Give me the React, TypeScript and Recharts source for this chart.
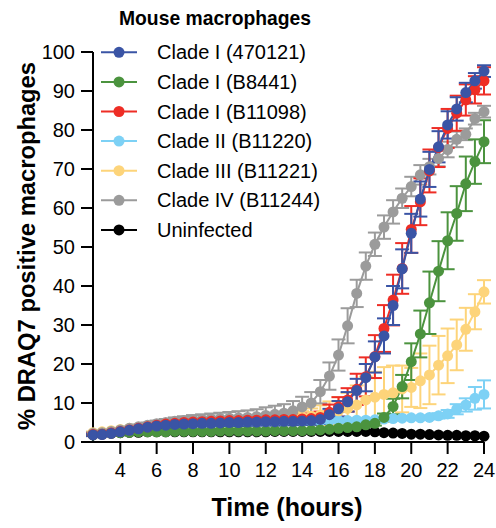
import { CartesianGrid, ErrorBar, Line, LineChart, XAxis, YAxis } from 'recharts';

// Sampling times (hours post infection), one reading every 30 min
const TIME_H = [
  2.5, 3, 3.5, 4, 4.5, 5, 5.5, 6, 6.5, 7, 7.5, 8, 8.5, 9, 9.5, 10, 10.5, 11, 11.5, 12, 12.5, 13,
  13.5, 14, 14.5, 15, 15.5, 16, 16.5, 17, 17.5, 18, 18.5, 19, 19.5, 20, 20.5, 21, 21.5, 22, 22.5,
  23, 23.5, 24,
];

// Mean % DRAQ7+ cells per strain
const CLADE_I_470121 = [
  1.8, 1.9, 2.2, 2.6, 3.0, 3.4, 3.8, 4.1, 4.3, 4.5, 4.6, 4.7, 4.8, 4.8, 4.9, 5.0, 5.0, 5.1, 5.1, 5.2,
  5.2, 5.3, 5.3, 5.4, 5.5, 5.8, 7.0, 8.5, 10.3, 13.2, 16.5, 21.8, 27.2, 35.0, 44.4, 53.5, 62.3, 69.9,
  75.7, 81.3, 85.4, 89.6, 92.6, 95.1,
];
const CLADE_I_B8441 = [
  1.8, 2.0, 2.2, 2.4, 2.5, 2.6, 2.6, 2.6, 2.6, 2.7, 2.7, 2.7, 2.7, 2.7, 2.8, 2.8, 2.8, 2.8, 2.8, 2.8,
  2.9, 2.9, 2.9, 2.9, 3.0, 3.1, 3.3, 3.5, 3.7, 3.9, 4.4, 4.8, 6.3, 9.1, 14.2, 20.6, 27.7, 35.7, 43.8,
  51.6, 58.6, 66.2, 71.9, 77.0,
];
const CLADE_I_B11098 = [
  1.9, 2.0, 2.3, 2.7, 3.1, 3.5, 3.9, 4.3, 4.6, 4.8, 5.0, 5.1, 5.2, 5.3, 5.4, 5.5, 5.5, 5.6, 5.6, 5.7,
  5.7, 5.8, 5.8, 5.9, 6.0, 6.3, 7.6, 9.0, 10.8, 13.5, 16.7, 21.9, 29.1, 36.4, 44.5, 54.5, 61.6, 69.5,
  75.5, 80.4, 84.3, 87.7, 90.3, 92.6,
];
const CLADE_II_B11220 = [
  2.1, 2.3, 2.6, 2.9, 3.3, 3.7, 4.0, 4.3, 4.5, 4.7, 4.8, 4.9, 5.0, 5.0, 5.1, 5.1, 5.2, 5.2, 5.2, 5.3,
  5.3, 5.3, 5.4, 5.4, 5.4, 5.4, 5.5, 5.5, 5.5, 5.6, 5.6, 5.7, 5.9, 6.0, 6.1, 6.2, 6.2, 6.3, 6.7, 7.2,
  8.4, 9.5, 11.2, 12.2,
];
const CLADE_III_B11221 = [
  2.4, 2.6, 2.9, 3.2, 3.5, 3.8, 4.1, 4.4, 4.6, 4.8, 5.0, 5.1, 5.2, 5.3, 5.4, 5.5, 5.6, 5.7, 5.8, 5.9,
  6.0, 6.1, 6.2, 6.4, 6.6, 6.9, 7.4, 8.0, 8.6, 9.5, 10.8, 11.5, 12.2, 12.6, 13.6, 14.0, 15.7, 17.2,
  19.7, 22.1, 24.9, 28.9, 33.4, 38.5,
];
const CLADE_IV_B11244 = [
  2.2, 2.4, 2.7, 3.1, 3.5, 3.9, 4.3, 4.7, 5.0, 5.3, 5.5, 5.7, 5.8, 5.9, 6.0, 6.1, 6.2, 6.3, 6.5, 6.8,
  7.1, 7.4, 8.0, 9.0, 10.0, 12.9, 16.9, 22.3, 29.8, 38.1, 45.1, 50.7, 55.1, 59.0, 62.5, 65.5, 68.5,
  70.6, 72.7, 75.0, 77.6, 78.9, 82.9, 84.7,
];
const UNINFECTED = [
  2.0, 2.1, 2.3, 2.4, 2.5, 2.5, 2.6, 2.6, 2.6, 2.6, 2.6, 2.6, 2.6, 2.6, 2.6, 2.6, 2.6, 2.6, 2.6, 2.6,
  2.7, 2.7, 2.7, 2.7, 2.7, 2.7, 2.7, 2.7, 2.7, 2.7, 2.7, 2.6, 2.4, 2.3, 2.2, 2.0, 2.0, 1.9, 1.8, 1.7,
  1.7, 1.6, 1.6, 1.5,
];

// Standard deviations
const SD_470121 = [
  0.3, 0.3, 0.3, 0.4, 0.4, 0.5, 0.5, 0.6, 0.6, 0.7, 0.7, 0.7, 0.8, 0.8, 0.8, 0.8, 0.9, 0.9, 0.9, 0.9,
  1.0, 1.0, 1.0, 1.0, 1.1, 1.2, 1.5, 2.0, 2.5, 3.0, 3.5, 4.0, 4.5, 5.0, 5.0, 5.0, 4.5, 4.5, 4.0, 3.5,
  3.0, 2.5, 2.0, 1.5,
];
const SD_B8441 = [
  0.2, 0.2, 0.2, 0.2, 0.2, 0.3, 0.3, 0.3, 0.3, 0.3, 0.3, 0.3, 0.3, 0.3, 0.3, 0.3, 0.3, 0.3, 0.3, 0.3,
  0.3, 0.3, 0.3, 0.3, 0.3, 0.3, 0.4, 0.4, 0.4, 0.5, 0.5, 0.6, 1.0, 2.0, 3.0, 4.7, 6.0, 8.0, 7.7, 7.3,
  7.0, 7.0, 5.7, 5.5,
];
const SD_B11098 = [
  0.3, 0.3, 0.4, 0.4, 0.5, 0.5, 0.6, 0.6, 0.7, 0.7, 0.8, 0.8, 0.8, 0.9, 0.9, 0.9, 1.0, 1.0, 1.0, 1.0,
  1.1, 1.1, 1.1, 1.2, 1.3, 1.5, 2.0, 2.5, 3.0, 4.0, 5.0, 5.5, 6.0, 6.5, 6.5, 6.0, 6.0, 5.5, 5.0, 5.0,
  4.5, 4.0, 3.5, 3.5,
];
const SD_B11220 = [
  0.2, 0.2, 0.2, 0.3, 0.3, 0.3, 0.3, 0.3, 0.3, 0.3, 0.3, 0.3, 0.3, 0.3, 0.3, 0.3, 0.3, 0.3, 0.3, 0.3,
  0.3, 0.3, 0.3, 0.3, 0.3, 0.4, 0.4, 0.4, 0.4, 0.4, 0.4, 0.4, 0.4, 0.5, 0.5, 0.5, 0.5, 0.5, 0.7, 1.0,
  1.3, 1.7, 2.9, 3.6,
];
const SD_B11221 = [
  0.3, 0.3, 0.3, 0.3, 0.3, 0.4, 0.4, 0.4, 0.5, 0.5, 0.5, 0.6, 0.6, 0.6, 0.7, 0.7, 0.8, 0.8, 0.9, 0.9,
  1.0, 1.1, 1.2, 1.5, 2.0, 2.5, 3.0, 3.5, 4.0, 5.0, 6.0, 6.5, 7.0, 7.0, 6.0, 5.0, 7.0, 7.5, 7.5, 7.0,
  6.5, 5.5, 4.5, 3.0,
];
const SD_B11244 = [
  0.3, 0.3, 0.4, 0.4, 0.5, 0.6, 0.7, 0.8, 0.9, 1.0, 1.1, 1.2, 1.3, 1.4, 1.5, 1.6, 1.7, 1.8, 1.9, 2.1,
  2.2, 2.3, 2.5, 2.6, 2.8, 3.0, 3.5, 4.0, 4.5, 3.5, 3.5, 3.0, 3.0, 3.0, 2.5, 2.5, 2.5, 2.0, 2.0, 2.0,
  2.0, 1.5, 1.5, 1.5,
];

const X_TICKS = [4, 6, 8, 10, 12, 14, 16, 18, 20, 22, 24];
const Y_TICKS = [0, 10, 20, 30, 40, 50, 60, 70, 80, 90, 100];

const FONT = '"Liberation Sans", Arial, Helvetica, sans-serif';

type Series = { key: string; name: string; color: string; values: number[]; sd?: number[] };

// legend order
const SERIES: Series[] = [
  { key: 's470121', name: 'Clade I (470121)', color: '#3a54a5', values: CLADE_I_470121, sd: SD_470121 },
  { key: 'sB8441', name: 'Clade I (B8441)', color: '#4b933e', values: CLADE_I_B8441, sd: SD_B8441 },
  { key: 'sB11098', name: 'Clade I (B11098)', color: '#ee2d25', values: CLADE_I_B11098, sd: SD_B11098 },
  { key: 'sB11220', name: 'Clade II (B11220)', color: '#7dd1f5', values: CLADE_II_B11220, sd: SD_B11220 },
  { key: 'sB11221', name: 'Clade III (B11221)', color: '#fdd47a', values: CLADE_III_B11221, sd: SD_B11221 },
  { key: 'sB11244', name: 'Clade IV (B11244)', color: '#9b9b9b', values: CLADE_IV_B11244, sd: SD_B11244 },
  { key: 'uninf', name: 'Uninfected', color: '#000000', values: UNINFECTED },
];

// paint order: uninfected at the back, 470121 on top
const DRAW_ORDER = ['uninf', 'sB11220', 'sB11221', 'sB11244', 'sB8441', 'sB11098', 's470121'];

const data = TIME_H.map((t, i) => {
  const row: Record<string, number> = { t };
  SERIES.forEach((s) => {
    row[s.key] = s.values[i];
    if (s.sd) row[`${s.key}Err`] = s.sd[i];
  });
  return row;
});

const axisStroke = { stroke: '#000', strokeWidth: 2 };
const tickText = { fill: '#000', fontSize: 20, fontFamily: FONT };

const Overlay = () => (
  <svg
    width={496}
    height={528}
    style={{ position: 'absolute', left: 0, top: 0, pointerEvents: 'none' }}
    fontFamily={FONT}
  >
    <text
      x={119}
      y={25}
      fontSize={21}
      fontWeight="bold"
      fill="#000"
      textLength={192}
      lengthAdjust="spacingAndGlyphs"
    >
      Mouse macrophages
    </text>
    <text x={287} y={516} fontSize={25} fontWeight="bold" textAnchor="middle" fill="#000">
      Time (hours)
    </text>
    <text
      transform="translate(35,246) rotate(-90)"
      fontSize={24}
      fontWeight="bold"
      textAnchor="middle"
      fill="#000"
      textLength={368}
      lengthAdjust="spacingAndGlyphs"
    >
      % DRAQ7 positive macrophages
    </text>
    {SERIES.map((s, i) => {
      const cy = 52.3 + i * 29.6;
      return (
        <g key={s.key}>
          <line x1={101} x2={137} y1={cy} y2={cy} stroke={s.color} strokeWidth={2} />
          <circle cx={119} cy={cy} r={5.5} fill={s.color} />
          <text x={157} y={cy + 7} fontSize={20} fill="#000">
            {s.name}
          </text>
        </g>
      );
    })}
  </svg>
);

export default function App() {
  return (
    <div style={{ position: 'absolute', left: 0, top: 0, width: 496, height: 528, background: '#fff' }}>
      <LineChart width={496} height={528} data={data} margin={{ top: 52, right: 12, bottom: 0, left: 0 }}>
        <CartesianGrid stroke="none" />
        <XAxis
          dataKey="t"
          type="number"
          domain={[2.5, 24]}
          ticks={X_TICKS}
          height={86}
          tickSize={12}
          tickMargin={9}
          axisLine={axisStroke}
          tickLine={axisStroke}
          tick={tickText}
        />
        <YAxis
          type="number"
          domain={[0, 100]}
          ticks={Y_TICKS}
          width={93}
          tickSize={12}
          tickMargin={6}
          axisLine={axisStroke}
          tickLine={axisStroke}
          tick={tickText}
        />
        {DRAW_ORDER.map((k) => {
          const s = SERIES.find((x) => x.key === k)!;
          return (
            <Line
              key={s.key}
              dataKey={s.key}
              name={s.name}
              type="linear"
              stroke={s.color}
              strokeWidth={2}
              dot={{ r: 5.5, fill: s.color, stroke: s.color, strokeWidth: 0 }}
              activeDot={false}
              isAnimationActive={false}
            >
              {s.sd && (
                <ErrorBar
                  dataKey={`${s.key}Err`}
                  direction="y"
                  width={7}
                  strokeWidth={2}
                  stroke={s.color}
                  isAnimationActive={false}
                />
              )}
            </Line>
          );
        })}
      </LineChart>
      <Overlay />
    </div>
  );
}
